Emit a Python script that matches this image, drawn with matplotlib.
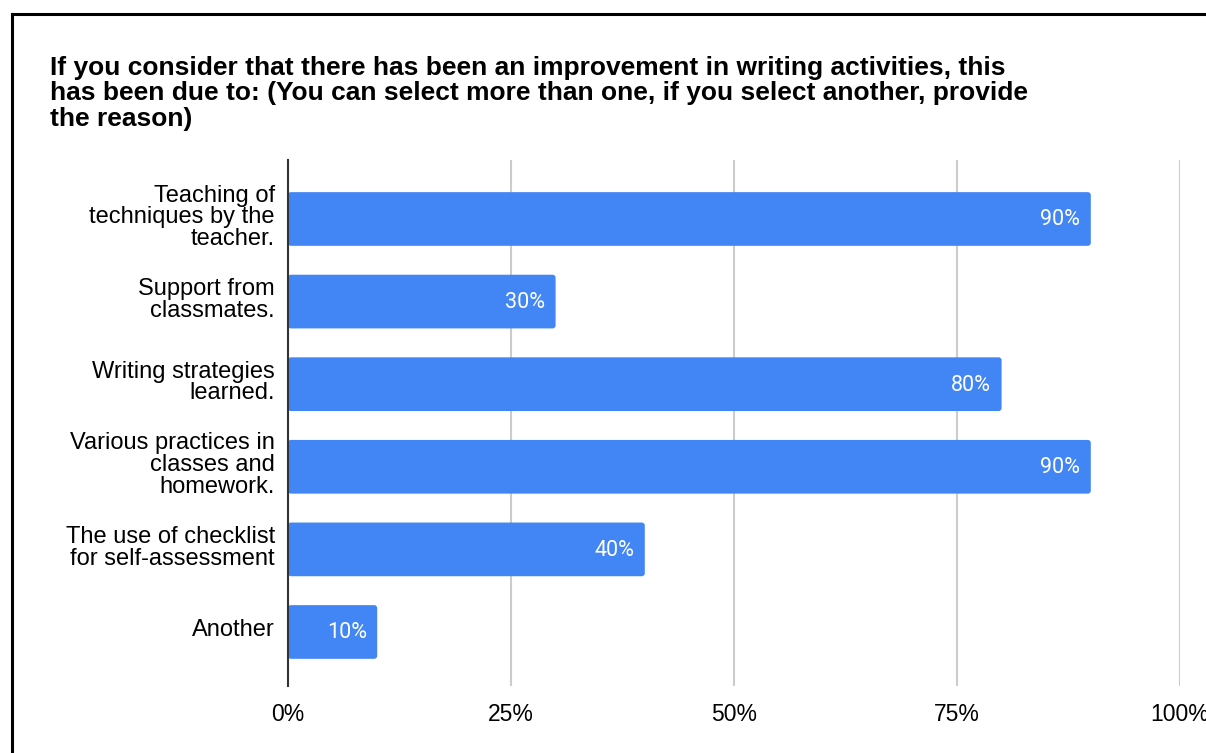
import matplotlib.pyplot as plt
from matplotlib.patches import FancyBboxPatch
from matplotlib.lines import Line2D
from matplotlib.transforms import ScaledTranslation

categories = [
    "Teaching of\ntechniques by the\nteacher.",
    "Support from\nclassmates.",
    "Writing strategies\nlearned.",
    "Various practices in\nclasses and\nhomework.",
    "The use of checklist\nfor self-assessment",
    "Another",
]
values = [90, 30, 80, 90, 40, 10]
xticks = [0, 25, 50, 75, 100]
xtick_labels = ["0%", "25%", "50%", "75%", "100%"]
title = ("If you consider that there has been an improvement in writing activities, this\n"
         "has been due to: (You can select more than one, if you select another, provide\n"
         "the reason)")

bar_color = "#4285F4"
W, H = 1206, 753

fig = plt.figure(figsize=(W / 100, H / 100), dpi=100)
ax = fig.add_axes([288 / W, 1 - 686 / H, (1180 - 288) / W, (686 - 160) / H])

bar_h = 0.65
ax.set_xlim(0, 100)
ax.set_ylim(5.654, -0.714)

# rounded bars
px_x = (1180 - 288) / 100.0
px_y = 82.6
r = 3.0 / px_x
for i, v in enumerate(values):
    p = FancyBboxPatch((0, i - bar_h / 2), v, bar_h,
                       boxstyle="round,pad=0,rounding_size=%f" % r,
                       mutation_aspect=px_x / px_y,
                       facecolor=bar_color, edgecolor="none", zorder=3)
    ax.add_patch(p)
    ax.text(v - 10.5 / px_x, i + 0.01, "%d%%" % v, color="white", fontsize=15.5,
            family="Roboto", ha="right", va="center", zorder=4)

ax.set_xticks(xticks)
ax.set_xticklabels(xtick_labels, fontsize=16.5, family="Liberation Sans")
ax.set_yticks(range(len(categories)))
ax.set_yticklabels(categories, fontsize=17, family="Liberation Sans",
                   linespacing=0.98, multialignment="right")
ax.tick_params(axis="both", length=0)
ax.tick_params(axis="y", pad=9.4)
ax.tick_params(axis="x", pad=12)
shift = ScaledTranslation(0, 4 / 100, fig.dpi_scale_trans)
for lab in ax.get_yticklabels():
    lab.set_transform(lab.get_transform() + shift)

ax.grid(axis="x", color="#cccccc", linewidth=1.5, zorder=0)
ax.set_axisbelow(True)
for s in ["top", "right", "bottom"]:
    ax.spines[s].set_visible(False)
ax.spines["left"].set_color("#333333")
ax.spines["left"].set_linewidth(1.5)
ax.spines["left"].set_zorder(5)

fig.text(50 / W, 1 - 56 / H, title, fontsize=19, fontweight="bold",
         family="Liberation Sans", ha="left", va="top", linespacing=1.07)

# outer frame (top and left edges visible)
fig.add_artist(Line2D([11.5 / W, 1.0], [1 - 14 / H, 1 - 14 / H],
                      transform=fig.transFigure, color="black", linewidth=2.2))
fig.add_artist(Line2D([11.5 / W, 11.5 / W], [0, 1 - 14 / H],
                      transform=fig.transFigure, color="black", linewidth=2.2))

fig.savefig("out.png", dpi=100)
